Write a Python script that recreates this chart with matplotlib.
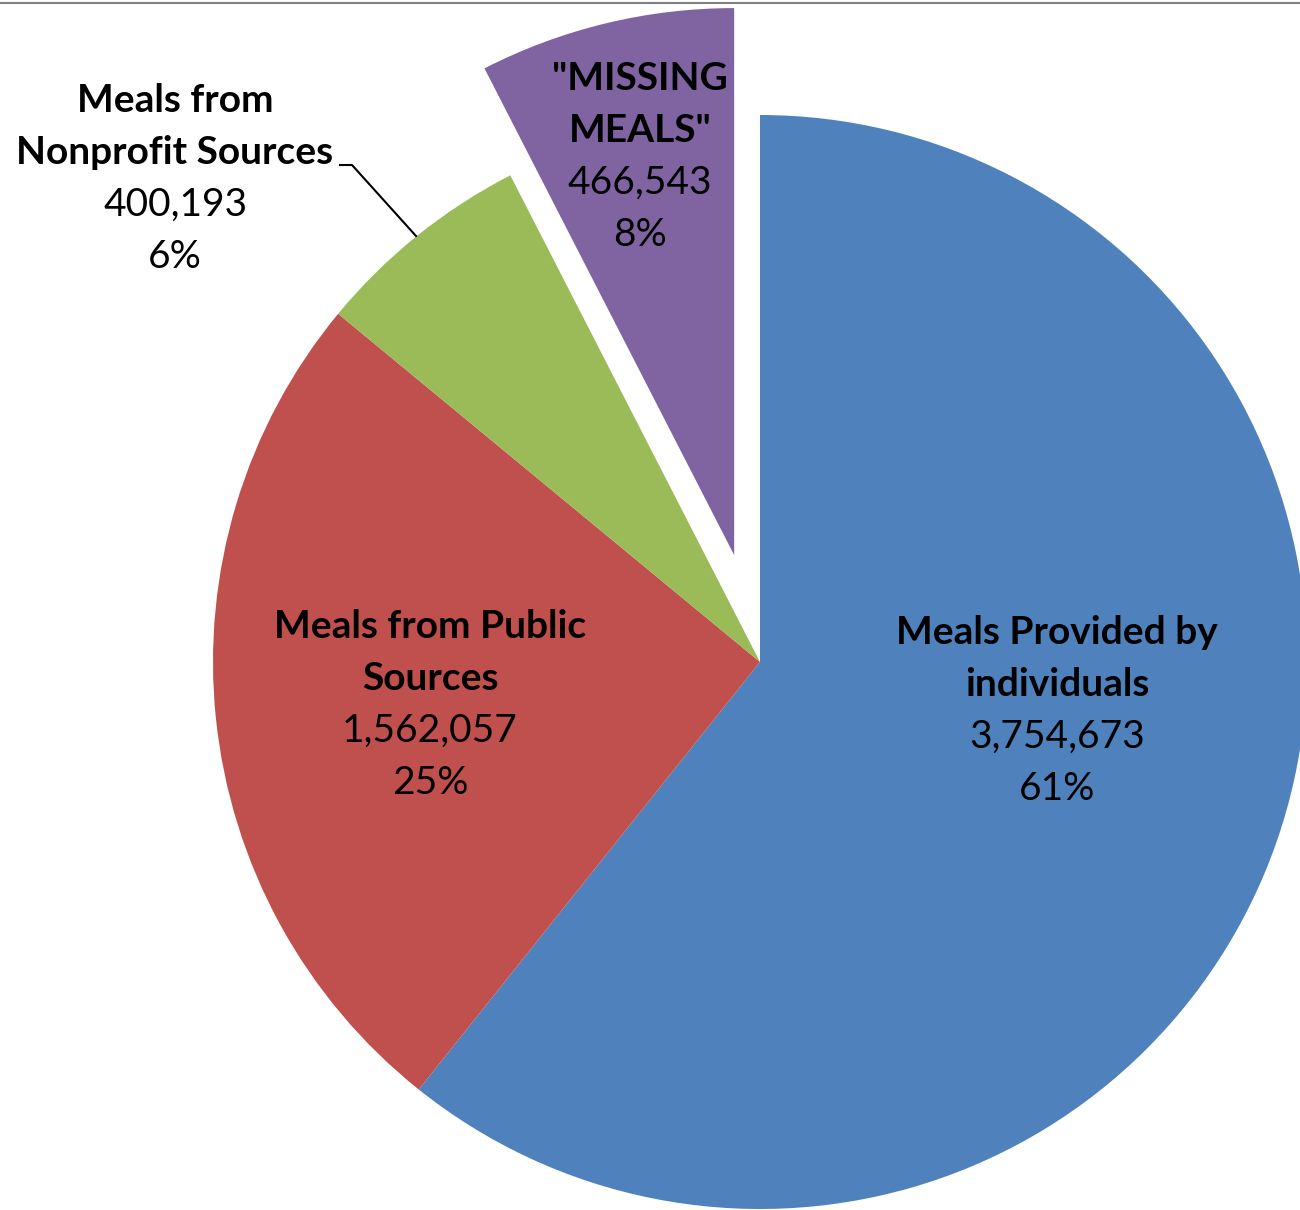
import numpy as np
import matplotlib.pyplot as plt
from matplotlib.lines import Line2D

plt.rcParams['font.family'] = ['Lato', 'DejaVu Sans']

# data
categories = ['Meals Provided by\nindividuals', 'Meals from Public\nSources',
              'Meals from\nNonprofit Sources', '"MISSING\nMEALS"']
values = [3754673, 1562057, 400193, 466543]
colors = ['#4F81BD', '#C0504D', '#9BBB59', '#8064A2']

total = sum(values)
pcts = [round(v / total * 100) for v in values]

fig = plt.figure(figsize=(13, 12.1), dpi=100)
ax = fig.add_axes([0, 0, 1, 1])

# pie drawn in pixel units, so explode is an absolute offset
cx, cy, r = 760, 1210 - 662, 547
explode = [0, 0, 0, 110]
ax.pie(values, colors=colors, explode=explode, startangle=90, counterclock=False,
       center=(cx, cy), radius=r, wedgeprops=dict(linewidth=0), frame=True)
ax.set_xlim(0, 1300)
ax.set_ylim(0, 1210)
ax.set_aspect('equal')
ax.axis('off')

# label centres (pixel coords from top)
label_pos = [(1057, 711), (430, 705), (175, 179), (640, 157)]
line_gap = 52
fs = 28
for name, v, p, (lx, ly) in zip(categories, values, pcts, label_pos):
    lines = name.split('\n')
    texts = [(l, 'bold') for l in lines] + [(f'{v:,}', 'normal'), (f'{p}%', 'normal')]
    n = len(texts)
    for i, (t, w) in enumerate(texts):
        y = ly + (i - (n - 1) / 2) * line_gap
        ax.text(lx, 1210 - y, t, ha='center', va='center', fontsize=fs,
                fontweight=w, color='black')

# leader line for nonprofit label
ax.plot([340, 352, 416], [1210 - 165, 1210 - 165, 1210 - 236], color='black', lw=1.5)

# top border line
fig.add_artist(Line2D([0, 1], [1 - 3 / 1210, 1 - 3 / 1210], color='#808080', lw=1.5))

fig.savefig('out.png', dpi=100)
